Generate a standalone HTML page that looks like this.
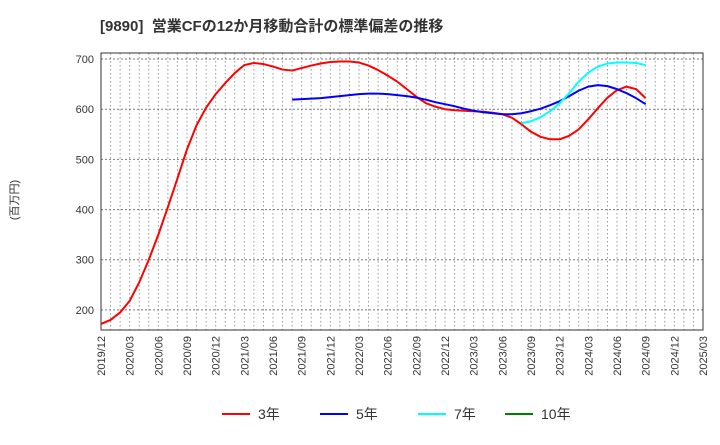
<!DOCTYPE html>
<html><head><meta charset="utf-8"><style>
body{margin:0;background:#fff;font-family:"Liberation Sans","Noto Sans CJK JP",sans-serif;}
</style></head><body>
<svg width="720" height="440" xmlns="http://www.w3.org/2000/svg" style="font-family:'Liberation Sans','Noto Sans CJK JP',sans-serif">
<text x="100" y="31" font-size="15" font-weight="bold" fill="#333">[9890]&#160;&#160;営業CFの12か月移動合計の標準偏差の推移</text>
<text transform="translate(18,200) rotate(-90)" font-size="11" fill="#333" text-anchor="middle">(百万円)</text>
<g id="grid"></g><g id="axes"></g><g id="series"></g><g id="legend"></g>
</svg>
<script>
const startYear=2019, startMonth=12;
const yTicks=[200,300,400,500,600,700];
const xTickLabels=["2019/12","2020/03","2020/06","2020/09","2020/12","2021/03","2021/06","2021/09","2021/12","2022/03","2022/06","2022/09","2022/12","2023/03","2023/06","2023/09","2023/12","2024/03","2024/06","2024/09","2024/12","2025/03"];
const s3Start=0;
const s3=[172,180,195,218,255,300,350,405,462,520,568,603,630,652,672,688,692,690,685,679,677,682,687,691,694,695,695,693,687,678,667,655,640,625,612,605,600,598,597,596,595,593,590,583,570,555,545,540,540,547,560,580,602,623,638,645,640,622];
const s5Start=20;
const s5=[619,620,621,622,624,626,628,630,631,631,630,628,626,623,619,614,610,606,601,597,594,592,590,590,592,596,601,608,616,626,637,645,648,646,640,632,622,610];
const s7Start=44;
const s7=[572,576,584,596,612,632,655,673,685,691,693,693,692,688];
const s10=[];
const legendLabels=["3年","5年","7年","10年"];
const colors=["#ff0000","#0000ff","#00ffff","#008000"];
const L=101,R=703,T=53,B=330,nMonths=63,yMin=160,yMax=712;
const X=i=>L+i*(R-L)/nMonths;
const Y=v=>B-(v-yMin)*(B-T)/(yMax-yMin);
const NS="http://www.w3.org/2000/svg";
function mk(tag,attrs,parent){const e=document.createElementNS(NS,tag);for(const k in attrs)e.setAttribute(k,attrs[k]);parent.appendChild(e);return e;}
const grid=document.getElementById('grid'),axes=document.getElementById('axes'),ser=document.getElementById('series'),leg=document.getElementById('legend');
for(let i=1;i<nMonths;i++){const l=mk('line',{x1:X(i),x2:X(i),y1:T,y2:B,stroke:'#999','stroke-dasharray':'1.5,2.5','stroke-width':1},grid);

}
yTicks.forEach(v=>{const l=mk('line',{x1:L,x2:R,y1:Y(v),y2:Y(v),stroke:'#777','stroke-dasharray':'2,2','stroke-width':1},grid);


const t=mk('text',{x:L-7,y:Y(v)+4,'font-size':11,fill:'#333','text-anchor':'end'},axes);t.textContent=v;

});
const fr=mk('rect',{x:L,y:T,width:R-L,height:B-T,fill:'none',stroke:'#333','stroke-width':1},axes);


xTickLabels.forEach((s,k)=>{const x=X(k*3);const t=mk('text',{transform:`translate(${x+4},${B+6}) rotate(-90)`,'font-size':11,fill:'#333','text-anchor':'end'},axes);t.textContent=s;

});
[[s3,s3Start,0,'line-3yr'],[s5,s5Start,1,'line-5yr'],[s7,s7Start,2,'line-7yr'],[s10,0,3,'line-10yr']].forEach(([d,st,c,n])=>{if(!d.length)return;
const p=mk('polyline',{points:d.map((v,i)=>X(st+i)+','+Y(v)).join(' '),fill:'none',stroke:colors[c],'stroke-width':2,'stroke-linejoin':'round'},ser);

});
const lx=[222,320,418,505];
legendLabels.forEach((s,i)=>{const l=mk('line',{x1:lx[i],x2:lx[i]+28,y1:414,y2:414,stroke:colors[i],'stroke-width':2},leg);


const t=mk('text',{x:lx[i]+36,y:419,'font-size':14,fill:'#333'},leg);t.textContent=s;

});
</script>
</body></html>
